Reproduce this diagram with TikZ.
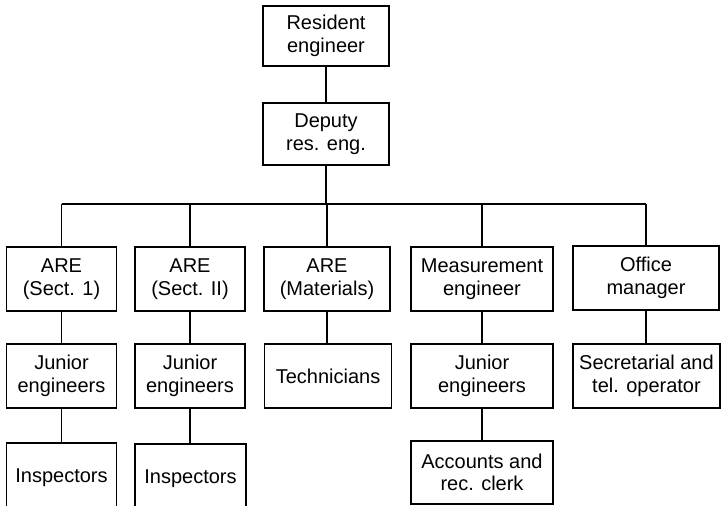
\documentclass[tikz,border=0pt]{standalone}
\usepackage{fontspec}
\setmainfont{Liberation Sans}
\begin{document}
\begin{tikzpicture}[x=1pt,y=1pt,
  box/.style={draw,line width=1.7pt,align=center,inner sep=0pt,
    font=\fontsize{20}{22.5}\selectfont,minimum height=#1},
  box/.default=64pt,
  link/.style={line width=1.7pt}]
\useasboundingbox (0,0) rectangle (721,506);
\clip (0,0) rectangle (721,506);
% top
\node[box=60pt,minimum width=126pt] (RE) at (326,470) {Resident\\engineer};
\node[box=62pt,minimum width=126pt] (DRE) at (326,372) {Deputy\\res. eng.};
% row 1
\node[box,minimum width=110pt] (A1) at (61.5,227) {ARE\\(Sect. 1)};
\node[box,minimum width=110pt] (A2) at (190,227) {ARE\\(Sect. II)};
\node[box,minimum width=126pt] (A3) at (327,227) {ARE\\(Materials)};
\node[box,minimum width=142pt] (ME) at (482,227) {Measurement\\engineer};
\node[box,minimum width=146pt] (OM) at (646,228) {Office\\manager};
% row 2
\node[box,minimum width=110pt] (J1) at (61.5,130) {Junior\\engineers};
\node[box,minimum width=110pt] (J2) at (190,130) {Junior\\engineers};
\node[box,minimum width=127pt] (T) at (328,130) {Technicians};
\node[box,minimum width=142pt] (J3) at (482,130) {Junior\\engineers};
\node[box,minimum width=147pt] (S) at (646.5,130) {Secretarial and\\tel. operator};
% row 3
\node[box=70pt,minimum width=110pt] (I1) at (61.5,28) {Inspectors};
\node[box=70pt,minimum width=111pt] (I2) at (190.5,27) {Inspectors};
\node[box=63pt,minimum width=142pt] (AC) at (482,33.5) {Accounts and\\rec. clerk};
% bus
\coordinate (bus) at (326,302);
\draw[link] (RE) -- (DRE);
\draw[link] (DRE.south) -- (bus);
\draw[link] (A1.north |- bus) -- (OM.north |- bus);
\foreach \n in {A1,A2,A3,ME,OM}{
  \draw[link] (\n.north |- bus) -- (\n.north);
}
\draw[link] (A1) -- (J1);
\draw[link] (A2) -- (J2);
\draw[link] (A3) -- (A3 |- T.north);
\draw[link] (ME) -- (J3);
\draw[link] (OM) -- (OM |- S.north);
\draw[link] (J1) -- (I1);
\draw[link] (J2) -- (J2 |- I2.north);
\draw[link] (J3) -- (AC);
\end{tikzpicture}
\end{document}
